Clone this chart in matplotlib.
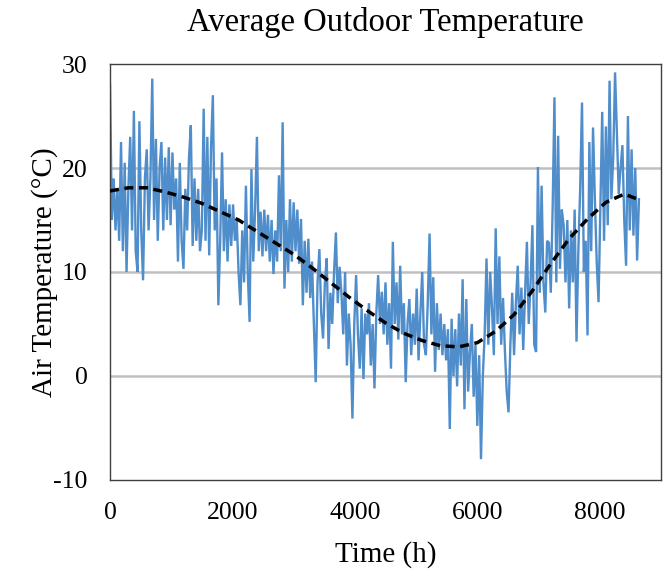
import numpy as np
import matplotlib
matplotlib.use("Agg")
import matplotlib.pyplot as plt

# hourly-ish outdoor temperature samples (every 30 h)
step_h = 30
temps = [
    28, 15, 19, 14, 18, 13, 22.5, 12, 20.5, 10,
    18, 23, 14, 25.5, 12, 10, 24.5, 14, 9.2, 19,
    21.8, 14, 19, 28.6, 15, 22.8, 13, 20, 22.5, 14,
    21, 15, 22, 14.5, 21.5, 16, 19, 11, 20.5, 13,
    10.3, 18, 14, 21, 24.1, 12.5, 19, 13, 18, 12,
    14, 25.7, 13, 23, 11.6, 22, 27, 14, 19, 6.8,
    13, 21.5, 12, 17, 11, 16.5, 12.5, 16.5, 13, 15,
    10, 6.8, 14, 9, 18.3, 10, 5.2, 19.9, 11, 16,
    23, 12, 15.8, 11.5, 16, 12, 15.5, 11, 15, 9.8,
    14, 11, 19.3, 12, 24.4, 8.4, 15, 10, 17, 11,
    16.7, 12, 16, 10.8, 15.1, 6.8, 13, 8, 13.2, 7.5,
    11, 5, -0.6, 9, 12.2, 6, 3.6, 9, 11.3, 2.6,
    8, 5, 10, 13.8, 7, 10.5, 8, 4, 10, 1,
    6, 3, -4.1, 5, 9.7, 4, 0.7, 6.5, -0.3, 6,
    4, 7, 1, 5, -1.2, 6, 9.7, 5, 8.1, 4,
    9, 3, 7, 0.7, 12.9, 5, 9, 3.5, 10.6, 4,
    7, -0.6, 5, 7.4, 2, 6, 3, 8.4, 1.5, 6,
    10, 3, 2, 7, 13.7, 4, 9.5, 0.4, 7, 2.5,
    6, 2, 5, 1.5, 4.5, -5.1, 5.5, 0, 4.5, -1,
    6, 1, 9.3, -3.2, 7.4, -1.5, 2.3, 5, -2, 3,
    -4.8, 2, -8, 0, 4, 11.3, 3, 10, 6.5, 2,
    14.2, 5, 11.5, 3, 7.5, 2.5, -1.5, -3.5, 3, 8,
    2, 7, 10.6, 4, 8.5, 2.5, 8, 12.9, 5, 9,
    14.5, 3, 2.3, 20.1, 8, 18.3, 9, 6.1, 13, 12.8,
    8, 16, 26.8, 9, 23.1, 10.3, 16, 14.5, 9, 15,
    6.5, 14, 9, 16, 3.3, 12, 18, 26.3, 10, 13,
    3.9, 22.5, 12, 23.9, 17, 11, 7.1, 16, 25.4, 13,
    24, 14.5, 28.4, 17, 21, 29.2, 23.5, 17.5, 20, 22.2,
    15, 10.6, 25, 14, 21.8, 13.5, 20, 11.1, 17,
]
hours = [i * step_h for i in range(len(temps))]

# polynomial trend line
trend_hours = [0, 300, 600, 900, 1200, 1500, 1800, 2100, 2400, 2700, 3000,
               3300, 3600, 3900, 4200, 4500, 4800, 5100, 5400, 5700, 6000,
               6300, 6600, 6900, 7200, 7500, 7800, 8100, 8400, 8620]
trend_temps = [17.8, 18.1, 18.1, 17.7, 17.2, 16.6, 15.8, 15.0, 13.9, 12.8, 11.7,
               10.4, 9.0, 7.6, 6.3, 5.1, 4.1, 3.4, 2.9, 2.8, 3.2,
               4.3, 5.9, 8.2, 10.8, 13.2, 15.1, 16.7, 17.5, 17.0]

x_ticks = [0, 2000, 4000, 6000, 8000]
y_ticks = [-10, 0, 10, 20, 30]
y_tick_labels = ['-10', '0', '10', '20', '30']

plt.rcParams['font.family'] = ['Liberation Serif', 'DejaVu Serif']

fig = plt.figure(figsize=(6.72, 5.72), dpi=100)
ax = fig.add_axes([0.1637, 0.161, 0.8199, 0.727])

for y in [0, 10, 20]:
    ax.axhline(y, color='#c0c0c0', lw=1.8, zorder=0)

ax.plot(hours, temps, color='#4f8dcb', lw=1.7, zorder=2, solid_joinstyle='miter')
ax.plot(trend_hours, trend_temps, color='black', lw=2.5, ls=(0, (2.6, 1.6)), zorder=3)

ax.set_xlim(0, 9000)
ax.set_ylim(-10, 30)
ax.set_xticks(x_ticks)
ax.set_yticks(y_ticks)
ax.set_yticklabels(y_tick_labels)
ax.tick_params(length=0, labelsize=18.5, colors='black')
ax.tick_params(axis='x', pad=16)
ax.tick_params(axis='y', pad=16)
for s in ax.spines.values():
    s.set_color('#404040')
    s.set_linewidth(1.0)

ax.set_title('Average Outdoor Temperature', fontsize=23.5, pad=24)
ax.set_xlabel('Time (h)', fontsize=21, labelpad=12)
ax.set_ylabel('Air Temperature (°C)', fontsize=21, labelpad=-3)

fig.savefig('out.png', dpi=100)
